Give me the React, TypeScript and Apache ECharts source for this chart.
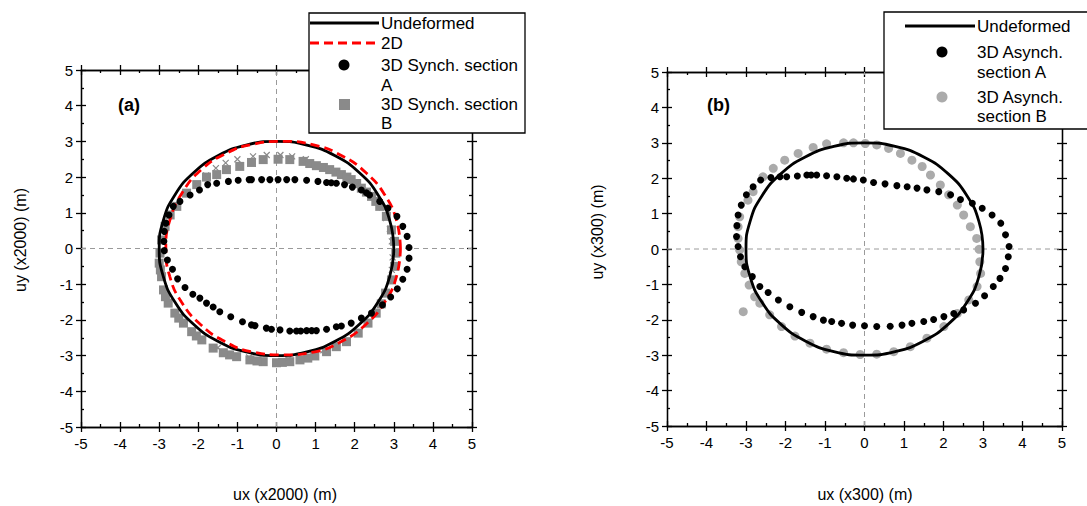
import React, { useEffect, useRef } from "react";
import * as echarts from "echarts";

// Axis range shared by both panels (ticks every 1, one minor tick between)
const AXIS_MIN = -5;
const AXIS_MAX = 5;
const AXIS_STEP = 1;

// Undeformed section: radius 3 circle
const undeformed: number[][] = [
  [3, 0], [2.898, 0.776], [2.598, 1.5], [2.121, 2.121], [1.5, 2.598], [0.776, 2.898],
  [0, 3], [-0.776, 2.898], [-1.5, 2.598], [-2.121, 2.121], [-2.598, 1.5], [-2.898, 0.776],
  [-3, 0], [-2.898, -0.776], [-2.598, -1.5], [-2.121, -2.121], [-1.5, -2.598], [-0.776, -2.898],
  [0, -3], [0.776, -2.898], [1.5, -2.598], [2.121, -2.121], [2.598, -1.5], [2.898, -0.776], [3, 0],
];

// (a) 2D analysis
const twoD: number[][] = [
  [3.17, 0], [3.07, 0.78], [2.77, 1.5], [2.29, 2.12], [1.67, 2.6], [0.95, 2.9],
  [0.17, 3.0], [-0.61, 2.92], [-1.33, 2.64], [-1.93, 2.2], [-2.4, 1.58], [-2.72, 0.82],
  [-2.83, 0], [-2.73, -0.78], [-2.43, -1.5], [-1.95, -2.12], [-1.33, -2.6], [-0.61, -2.9],
  [0.17, -2.98], [0.95, -2.9], [1.67, -2.6], [2.29, -2.12], [2.77, -1.5], [3.07, -0.78], [3.17, 0],
];

// (a) 3D synchronous, section A
const synchA: number[][] = [
  [-1.76, 1.79], [-1.53, 1.83], [-1.23, 1.88], [-0.98, 1.91], [-0.7, 1.93], [-0.64, 1.93],
  [-0.38, 1.93], [-0.17, 1.93], [0.04, 1.93], [0.26, 1.93], [0.47, 1.93], [0.77, 1.91],
  [1.06, 1.88], [1.28, 1.85], [1.4, 1.84], [1.53, 1.83], [1.74, 1.79], [1.94, 1.72], [2.17, 1.64],
  [2.3, 1.56], [2.38, 1.5], [2.64, 1.32], [2.85, 1.13], [3.08, 0.9], [3.23, 0.62], [3.34, 0.34],
  [3.39, 0.03], [3.39, -0.27], [3.34, -0.58], [3.23, -0.86], [3.09, -1.13], [2.92, -1.36],
  [2.71, -1.58], [2.43, -1.81], [2.17, -1.95], [1.91, -2.09], [1.66, -2.17], [1.53, -2.19],
  [1.28, -2.26], [1.02, -2.3], [0.9, -2.3], [0.77, -2.3], [0.62, -2.31], [0.51, -2.31], [0.34, -2.31],
  [0.09, -2.28], [-0.13, -2.26], [-0.26, -2.23], [-0.55, -2.16], [-0.64, -2.14], [-0.87, -2.05],
  [-1.17, -1.91], [-1.45, -1.77], [-1.62, -1.64], [-1.79, -1.53], [-1.96, -1.39], [-2.14, -1.28],
  [-2.34, -1.09], [-2.53, -0.85], [-2.66, -0.58], [-2.79, -0.32], [-2.87, -0.06], [-2.88, 0.2],
  [-2.87, 0.48], [-2.83, 0.71], [-2.75, 0.94], [-2.64, 1.18], [-2.47, 1.32], [-2.21, 1.5],
  [-1.97, 1.64],
];

// (a) 3D synchronous, section B
const synchB: number[][] = [
  [-0.94, 2.3], [-0.64, 2.41], [-0.34, 2.49], [0.04, 2.5], [0.34, 2.49], [0.68, 2.44],
  [0.85, 2.38], [1.02, 2.32], [1.2, 2.27], [1.36, 2.21], [1.52, 2.14], [1.66, 2.07], [1.8, 2.0],
  [1.91, 1.93], [2.05, 1.82], [2.17, 1.69], [2.3, 1.58], [2.43, 1.46], [2.54, 1.32], [2.64, 1.18],
  [2.81, 0.9], [2.94, 0.52], [3.02, 0.2], [3.05, -0.13], [3.02, -0.5], [2.94, -0.88],
  [2.79, -1.25], [2.68, -1.55], [2.55, -1.81], [2.34, -2.09], [2.09, -2.37], [1.79, -2.61],
  [1.53, -2.75], [1.28, -2.89], [0.98, -3.01], [0.8, -3.07], [0.6, -3.12], [0.34, -3.17],
  [0.15, -3.19], [0, -3.2], [-0.34, -3.17], [-0.5, -3.15], [-0.68, -3.12], [-1.02, -3.03],
  [-1.2, -2.98], [-1.36, -2.92], [-1.62, -2.79], [-1.91, -2.56], [-2.05, -2.45], [-2.17, -2.33],
  [-2.38, -2.09], [-2.5, -1.95], [-2.6, -1.81], [-2.77, -1.53], [-2.84, -1.35], [-2.89, -1.16],
  [-2.94, -0.79], [-2.97, -0.6], [-3.0, -0.41], [-2.98, -0.13], [-2.94, 0.24], [-2.85, 0.62],
  [-2.72, 0.94], [-2.55, 1.18], [-2.3, 1.55], [-2.04, 1.79], [-1.79, 2.0], [-1.53, 2.07],
  [-1.28, 2.21],
];

// (a) additional gray cross markers
const synchCross: number[][] = [
  [-2.3, 1.55], [-2.05, 1.8], [-1.8, 2.05], [-1.55, 2.25], [-1.3, 2.4], [-1.0, 2.5],
  [-0.6, 2.58], [-0.25, 2.62], [0.1, 2.62], [0.4, 2.58], [0.75, 2.5], [2.5, 1.45],
  [2.7, 1.15], [2.8, 0.85], [2.9, 0.55], [2.95, 0.2], [2.97, -0.25], [2.95, -0.6],
  [-1.5, -2.78], [-0.7, -3.05], [0.3, -3.1], [1.2, -2.85],
];

// (b) 3D asynchronous, section A
const asynchA: number[][] = [
  [-3.2, 0.96], [-3.12, 1.24], [-2.99, 1.53], [-2.82, 1.76], [-2.63, 1.95], [-2.37, 2.02],
  [-2.14, 2.04], [-1.97, 2.04], [-1.7, 2.06], [-1.46, 2.09], [-1.35, 2.09], [-1.21, 2.09],
  [-0.96, 2.07], [-0.7, 2.04], [-0.45, 2.0], [-0.28, 1.98], [-0.03, 1.95], [0.23, 1.88],
  [0.52, 1.84], [0.82, 1.79], [1.08, 1.76], [1.33, 1.72], [1.58, 1.67], [1.88, 1.62],
  [2.18, 1.53], [2.43, 1.4], [2.73, 1.29], [2.98, 1.15], [3.23, 0.96], [3.45, 0.73],
  [3.57, 0.4], [3.66, 0.07], [3.64, -0.22], [3.57, -0.55], [3.43, -0.83], [3.26, -1.06],
  [3.04, -1.32], [2.81, -1.53], [2.51, -1.72], [2.26, -1.82], [2.01, -1.91], [1.75, -1.99],
  [1.5, -2.05], [1.2, -2.1], [0.95, -2.15], [0.65, -2.18], [0.31, -2.19], [0, -2.17],
  [-0.3, -2.15], [-0.58, -2.1], [-0.83, -2.05], [-1.04, -2.01], [-1.3, -1.91], [-1.59, -1.79],
  [-1.89, -1.63], [-2.18, -1.44], [-2.44, -1.23], [-2.65, -1.06], [-2.84, -0.78], [-3.03, -0.5],
  [-3.14, -0.22], [-3.2, 0.07], [-3.24, 0.35], [-3.23, 0.66],
];

// (b) 3D asynchronous, section B
const asynchB: number[][] = [
  [-3.2, 0.63], [-3.16, 0.91], [-2.95, 1.38], [-2.82, 1.62], [-2.57, 2.04], [-2.31, 2.28],
  [-2.02, 2.51], [-1.68, 2.7], [-1.3, 2.87], [-0.96, 2.97], [-0.53, 3.0], [-0.28, 3.0],
  [0.02, 2.98], [0.31, 2.94], [0.61, 2.84], [0.91, 2.7], [1.2, 2.51], [1.46, 2.33],
  [1.67, 2.09], [1.92, 1.81], [2.13, 1.53], [2.35, 1.24], [2.51, 0.96], [2.68, 0.63],
  [2.84, 0.3], [2.9, -0.01], [2.92, -0.36], [2.94, -0.69], [2.85, -1.06], [2.64, -1.44],
  [2.35, -1.82], [2.01, -2.19], [1.58, -2.52], [1.16, -2.76], [0.74, -2.9], [0.31, -2.97],
  [-0.11, -2.98], [-0.53, -2.93], [-0.96, -2.83], [-1.38, -2.66], [-1.76, -2.46], [-2.1, -2.19],
  [-2.4, -1.86], [-2.65, -1.53], [-2.78, -1.35], [-2.92, -1.02], [-3.03, -0.69], [-3.12, -0.36],
  [-3.16, -0.03], [-3.2, 0.3], [-3.07, -1.77],
];

const FONT = '"Liberation Sans", Arial, Helvetica, sans-serif';
const INK = "#000";

const axisLine = { show: true, onZero: false, lineStyle: { color: INK, width: 1.3 } };

function frameAxes(gridIndex: number, dim: "x" | "y") {
  const ends = dim === "x" ? ["bottom", "top"] : ["left", "right"];
  const base = {
    gridIndex,
    type: "value",
    min: AXIS_MIN,
    max: AXIS_MAX,
    interval: AXIS_STEP,
    splitLine: { show: false },
    axisLine,
  };
  const axes: any[] = [];
  ends.forEach((position, k) => {
    // outward half of the major ticks (labels on bottom/left only)
    axes.push({
      ...base,
      position,
      axisTick: { show: true, inside: false, length: 5, lineStyle: { color: INK, width: 1.3 } },
      minorTick: { show: false },
      axisLabel: {
        show: k === 0,
        fontSize: 15,
        fontFamily: FONT,
        color: INK,
        margin: dim === "x" ? 9 : 8,
      },
    });
    // inward half of the major ticks plus minor ticks
    axes.push({
      ...base,
      position,
      axisTick: { show: true, inside: true, length: 5, lineStyle: { color: INK, width: 1.3 } },
      minorTick: { show: true, splitNumber: 2, length: 3, lineStyle: { color: INK, width: 1.3 } },
      axisLabel: { show: false },
    });
  });
  return axes;
}

function crossLines(idx: number) {
  const style = { color: "#9a9a9a", width: 1, type: [5, 4] };
  return [
    [[0, AXIS_MIN], [0, AXIS_MAX]],
    [[AXIS_MIN, 0], [AXIS_MAX, 0]],
  ].map((data) => ({
    type: "line",
    xAxisIndex: idx * 4,
    yAxisIndex: idx * 4,
    data,
    symbol: "none",
    silent: true,
    lineStyle: style,
    z: 1,
  }));
}

const crossSymbol = "path://M0,0L10,10M10,0L0,10";

function text(x: number, y: number, s: string, extra: any = {}) {
  return {
    type: "text",
    x,
    y,
    z: 101,
    silent: true,
    style: { text: s, fontFamily: FONT, fontSize: 17, fill: INK, verticalAlign: "middle", ...extra },
  };
}

export default function App() {
  const ref = useRef<HTMLDivElement>(null);

  useEffect(() => {
    if (!ref.current) return;
    const chart = echarts.init(ref.current, null, { renderer: "svg" });

    const option: any = {
      animation: false,
      backgroundColor: "#fff",
      grid: [
        { left: 81, top: 70, width: 391, height: 357, containLabel: false },
        { left: 667, top: 72, width: 395, height: 354, containLabel: false },
      ],
      xAxis: [...frameAxes(0, "x"), ...frameAxes(1, "x")],
      yAxis: [...frameAxes(0, "y"), ...frameAxes(1, "y")],
      series: [
        ...crossLines(0),
        {
          name: "3D Synch. section B",
          type: "scatter",
          xAxisIndex: 0,
          yAxisIndex: 0,
          data: synchB,
          symbol: "rect",
          symbolSize: 9,
          itemStyle: { color: "#8a8a8a", opacity: 1 },
          z: 2,
        },
        {
          type: "scatter",
          xAxisIndex: 0,
          yAxisIndex: 0,
          data: synchCross,
          symbol: crossSymbol,
          symbolSize: 6,
          itemStyle: { color: "none", borderColor: "#8a8a8a", borderWidth: 1.2, opacity: 1 },
          z: 2,
        },
        {
          name: "Undeformed",
          type: "line",
          xAxisIndex: 0,
          yAxisIndex: 0,
          data: undeformed,
          smooth: true,
          symbol: "none",
          lineStyle: { color: INK, width: 2.8 },
          z: 3,
        },
        {
          name: "2D",
          type: "line",
          xAxisIndex: 0,
          yAxisIndex: 0,
          data: twoD,
          smooth: true,
          symbol: "none",
          lineStyle: { color: "#ff0000", width: 2.8, type: [9, 5] },
          z: 3,
        },
        {
          name: "3D Synch. section A",
          type: "scatter",
          xAxisIndex: 0,
          yAxisIndex: 0,
          data: synchA,
          symbol: "circle",
          symbolSize: 7,
          itemStyle: { color: INK, opacity: 1 },
          z: 4,
        },
        ...crossLines(1),
        {
          name: "3D Asynch. section B",
          type: "scatter",
          xAxisIndex: 4,
          yAxisIndex: 4,
          data: asynchB,
          symbol: "circle",
          symbolSize: 9,
          itemStyle: { color: "#ababab", opacity: 1 },
          z: 2,
        },
        {
          name: "Undeformed",
          type: "line",
          xAxisIndex: 4,
          yAxisIndex: 4,
          data: undeformed,
          smooth: true,
          symbol: "none",
          lineStyle: { color: INK, width: 2.8 },
          z: 3,
        },
        {
          name: "3D Asynch. section A",
          type: "scatter",
          xAxisIndex: 4,
          yAxisIndex: 4,
          data: asynchA,
          symbol: "circle",
          symbolSize: 7,
          itemStyle: { color: INK, opacity: 1 },
          z: 4,
        },
      ],
      graphic: [
        // panel tags
        text(118, 105, "(a)", { fontWeight: "bold", fontSize: 18 }),
        text(707, 105, "(b)", { fontWeight: "bold", fontSize: 18 }),
        // axis titles
        text(285, 494, "ux (x2000) (m)", { fontSize: 16, align: "center" }),
        text(865, 494, "ux (x300) (m)", { fontSize: 16, align: "center" }),
        { ...text(20, 240, "uy (x2000) (m)", { fontSize: 16, align: "center" }), rotation: Math.PI / 2 },
        { ...text(597, 232, "uy (x300) (m)", { fontSize: 16, align: "center" }), rotation: Math.PI / 2 },
        // legend (a)
        {
          type: "rect",
          z: 100,
          silent: true,
          shape: { x: 309, y: 13, width: 216, height: 120 },
          style: { fill: "#fff", stroke: INK, lineWidth: 1.3 },
        },
        { type: "line", z: 101, silent: true, shape: { x1: 310, y1: 23, x2: 379, y2: 23 }, style: { stroke: INK, lineWidth: 3 } },
        text(381, 23, "Undeformed"),
        {
          type: "line",
          z: 101,
          silent: true,
          shape: { x1: 310, y1: 43, x2: 379, y2: 43 },
          style: { stroke: "#ff0000", lineWidth: 3, lineDash: [9, 5] },
        },
        text(381, 43, "2D"),
        { type: "circle", z: 101, silent: true, shape: { cx: 344, cy: 65, r: 5.5 }, style: { fill: INK } },
        text(381, 65, "3D Synch. section"),
        text(381, 85, "A"),
        { type: "rect", z: 101, silent: true, shape: { x: 339, y: 99, width: 11, height: 11 }, style: { fill: "#8a8a8a" } },
        text(381, 104, "3D Synch. section"),
        text(381, 123, "B"),
        // legend (b)
        {
          type: "rect",
          z: 100,
          silent: true,
          shape: { x: 884, y: 12, width: 220, height: 117 },
          style: { fill: "#fff", stroke: INK, lineWidth: 1.3 },
        },
        { type: "line", z: 101, silent: true, shape: { x1: 905, y1: 26, x2: 975, y2: 26 }, style: { stroke: INK, lineWidth: 3 } },
        text(977, 26, "Undeformed"),
        { type: "circle", z: 101, silent: true, shape: { cx: 942, cy: 52, r: 5.5 }, style: { fill: INK } },
        text(977, 52, "3D Asynch."),
        text(977, 72, "section A"),
        { type: "circle", z: 101, silent: true, shape: { cx: 942, cy: 97, r: 5.5 }, style: { fill: "#ababab" } },
        text(977, 97, "3D Asynch."),
        text(977, 116, "section B"),
      ],
    };

    chart.setOption(option);
    return () => chart.dispose();
  }, []);

  return (
    <div
      ref={ref}
      style={{ position: "absolute", left: 0, top: 0, width: 1087, height: 506, background: "#fff" }}
    />
  );
}
